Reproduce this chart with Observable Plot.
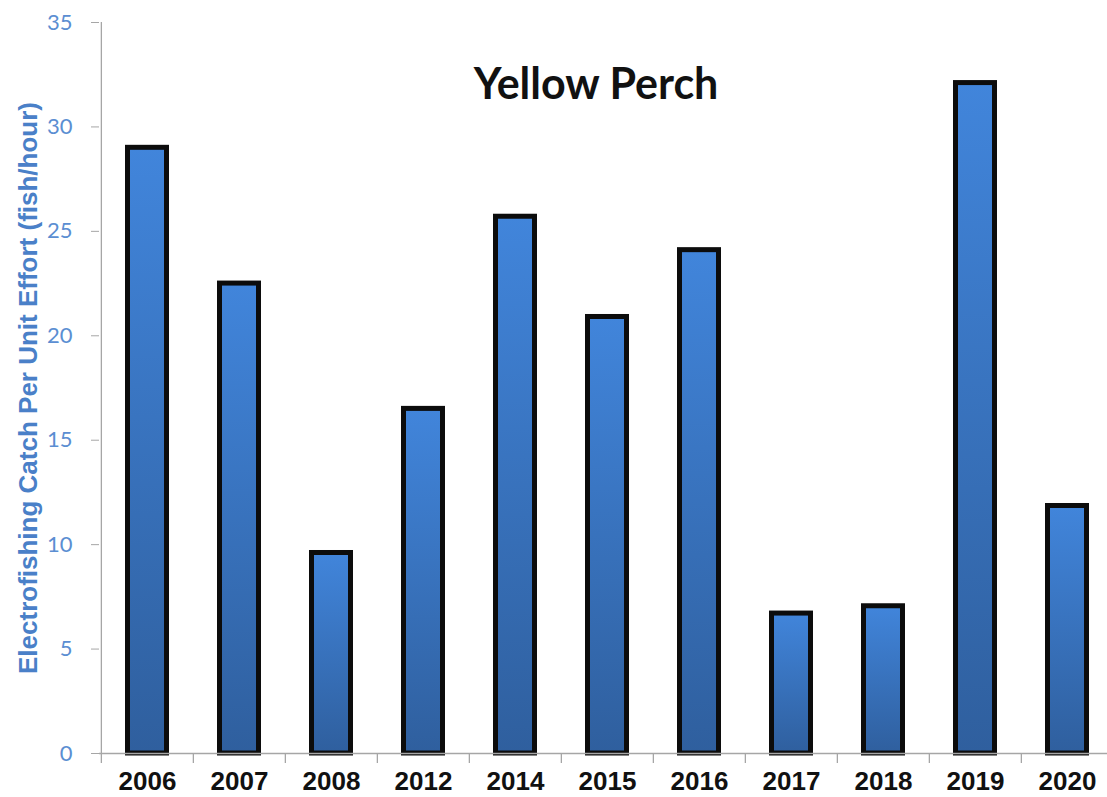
<!DOCTYPE html>
<html>
<head>
<meta charset="utf-8">
<script src="https://cdn.jsdelivr.net/npm/d3@7"></script>
<script src="https://cdn.jsdelivr.net/npm/@observablehq/plot@0.6"></script>
<style>
  body { margin: 0; background: #fff; }
  #chart svg { display: block; overflow: visible; }
</style>
</head>
<body>
<div id="chart"></div>
<script>
// Yellow perch electrofishing CPUE by survey year
const years = ["2006", "2007", "2008", "2012", "2014", "2015", "2016", "2017", "2018", "2019", "2020"];
const cpue = [29.0, 22.5, 9.6, 16.5, 25.7, 20.9, 24.1, 6.7, 7.05, 32.1, 11.85];
const yTicks = [0, 5, 10, 15, 20, 25, 30, 35];
const chartTitle = "Yellow Perch";
const yLabel = "Electrofishing Catch Per Unit Effort (fish/hour)";

const data = years.map((year, i) => ({year, cpue: cpue[i]}));

const W = 1107, H = 797;
const mL = 99, mR = -7, mT = 22, mB = 44;
const step = (W - mR - mL) / years.length;   // width of one category band
const half = step / 2;
const axisGray = "#a6a6a6";

// vertical blue gradient used by every bar (light at the top, darker at the base)
const gradientDefs = () => {
  const defs = d3.create("svg:defs");
  const g = defs.append("linearGradient")
    .attr("id", "barGrad").attr("x1", 0).attr("y1", 0).attr("x2", 0).attr("y2", 1);
  g.append("stop").attr("offset", "0%").attr("stop-color", "#4185db");
  g.append("stop").attr("offset", "100%").attr("stop-color", "#2f5f9e");
  return defs.node();
};

const chart = Plot.plot({
  width: W,
  height: H,
  marginLeft: mL,
  marginRight: mR,
  marginTop: mT,
  marginBottom: mB,
  style: {background: "#fff", overflow: "visible"},
  x: {domain: years, padding: 0, label: null},
  y: {domain: [0, 35], label: null},
  marks: [
    gradientDefs,
    // bars
    Plot.barY(data, {
      x: "year", y: "cpue",
      insetLeft: 26.5, insetRight: 26.5,
      fill: "url(#barGrad)",
      stroke: "#0c0c0c", strokeWidth: 5, strokeLinejoin: "miter"
    }),
    // x axis baseline
    Plot.ruleY([0], {stroke: axisGray, strokeWidth: 1.3}),
    // y axis line (runs down past the baseline)
    Plot.ruleX([years[0]], {dx: -half, y1: 35, y2: 0, insetBottom: -10, stroke: axisGray, strokeWidth: 1.3}),
    // category boundary ticks below the baseline
    Plot.ruleX(years.slice(1), {dx: -half, y1: 0, y2: 0, insetBottom: -10, stroke: axisGray, strokeWidth: 1.3}),
    // y axis ticks and labels
    Plot.axisY({
      ticks: yTicks, tickSize: 8, tickPadding: 19,
      stroke: axisGray, fill: "#5b8ed2",
      fontSize: 22, fontFamily: "Lato, 'Open Sans', sans-serif",
      label: null
    }),
    // x axis labels
    Plot.axisX({
      tickSize: 0, tickPadding: 18,
      fill: "#111", fontSize: 26, fontWeight: "bold",
      fontFamily: "'Liberation Sans', Arial, sans-serif",
      label: null
    }),
    // title
    Plot.text([chartTitle], {
      frameAnchor: "top", dx: -11, dy: 46,
      fontSize: 43, fontWeight: "bold",
      fontFamily: "Lato, 'Open Sans', sans-serif",
      fill: "#111"
    }),
    // y axis title
    Plot.text([yLabel], {
      frameAnchor: "left", textAnchor: "middle", dx: -71, rotate: -90,
      fontSize: 26, fontWeight: "bold",
      fontFamily: "'Liberation Sans', Arial, sans-serif",
      fill: "#4a80c8"
    })
  ]
});

document.getElementById("chart").appendChild(chart);
</script>
</body>
</html>
